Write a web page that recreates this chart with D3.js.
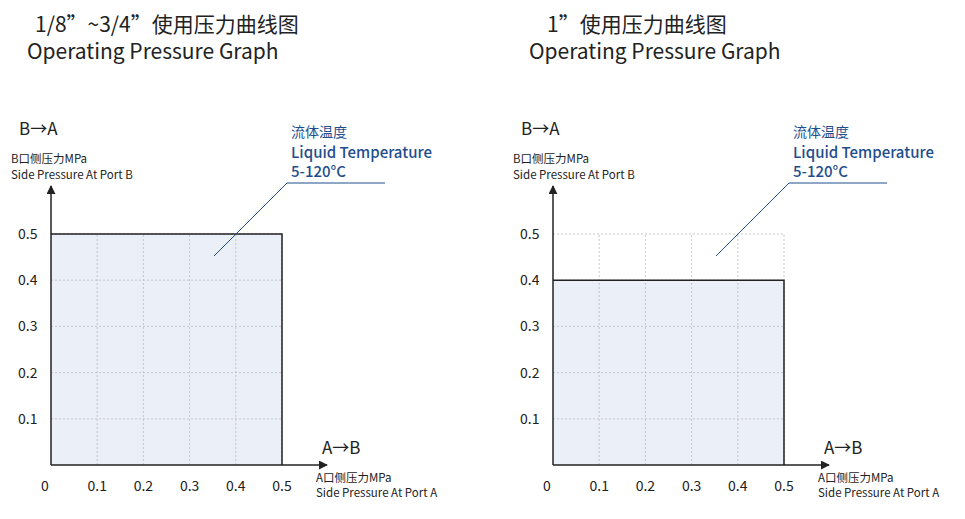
<!DOCTYPE html><html><head><meta charset="utf-8"><script src="https://cdn.jsdelivr.net/npm/d3@7"></script>
<style>body{margin:0;background:#fff}text{font-family:"Noto Sans CJK SC","Noto Sans",sans-serif}</style></head><body>
<svg id="c" width="965" height="519"></svg>
<script>
const ticks=[0.1,0.2,0.3,0.4,0.5];
const xTickLabels=["0","0.1","0.2","0.3","0.4","0.5"];
const chartTitles=["1/8”~3/4”使用压力曲线图","1”使用压力曲线图"];
const subTitle="Operating Pressure Graph";
const maxA=[0.5,0.5];
const maxB=[0.5,0.4];
const tempLabels=["流体温度","Liquid Temperature","5-120°C"];
const svg=d3.select("#c");
svg.append("defs").append("marker").attr("id","ar").attr("viewBox","0 0 10 10").attr("refX",9).attr("refY",5)
 .attr("markerWidth",9).attr("markerHeight",9).attr("markerUnits","userSpaceOnUse").attr("orient","auto")
 .append("path").attr("d","M0,0L10,5L0,10z").attr("fill","#222");
[0,1].forEach(i=>{
 const ox=i*502;
 const g=svg.append("g").attr("transform",`translate(${ox},0)`);
 const x=d3.scaleLinear().domain([0,0.5]).range([51,282]);
 const y=d3.scaleLinear().domain([0,0.5]).range([465,234]);
 g.append("text").attr("x",i?45:35).attr("y",32).attr("font-size",21).attr("fill","#222").text(chartTitles[i]);
 g.append("text").attr("x",27).attr("y",59).attr("font-size",21).attr("fill","#222").text(subTitle);
 g.append("rect").attr("x",x(0)).attr("y",y(maxB[i])).attr("width",x(maxA[i])-x(0)).attr("height",y(0)-y(maxB[i])).attr("fill","#eaeff8");
 ticks.forEach(t=>{
  g.append("line").attr("x1",x(t)).attr("x2",x(t)).attr("y1",y(0)).attr("y2",y(0.5)).attr("stroke","#bbb").attr("stroke-dasharray","2,2").attr("stroke-width",0.8);
  g.append("line").attr("y1",y(t)).attr("y2",y(t)).attr("x1",x(0)).attr("x2",x(0.5)).attr("stroke","#bbb").attr("stroke-dasharray","2,2").attr("stroke-width",0.8);
  g.append("text").attr("x",18).attr("y",y(t)+5).attr("font-size",14).attr("fill","#222").text(t.toFixed(1));
 });
 g.append("path").attr("d",`M${x(0)},${y(maxB[i])}H${x(maxA[i])}V${y(0)}`).attr("fill","none").attr("stroke","#222").attr("stroke-width",1.5);
 g.append("line").attr("x1",x(0)).attr("y1",y(0)).attr("x2",x(0)).attr("y2",186).attr("stroke","#222").attr("stroke-width",1.5).attr("marker-end","url(#ar)");
 g.append("line").attr("x1",x(0)).attr("y1",y(0)).attr("x2",327).attr("y2",y(0)).attr("stroke","#222").attr("stroke-width",1.5).attr("marker-end","url(#ar)");
 xTickLabels.forEach((l,j)=>g.append("text").attr("x",j?x(j/10):45).attr("y",491).attr("text-anchor","middle").attr("font-size",14).attr("fill","#222").text(l));
 g.append("text").attr("x",19).attr("y",135).attr("font-size",17).attr("fill","#222").text("B→A");
 g.append("text").attr("x",11).attr("y",163).attr("font-size",11.5).attr("fill","#222").text("B口侧压力MPa");
 g.append("text").attr("x",11).attr("y",179).attr("font-size",11.5).attr("fill","#222").text("Side Pressure At Port B");
 g.append("text").attr("x",322).attr("y",454).attr("font-size",17).attr("fill","#222").text("A→B");
 g.append("text").attr("x",316).attr("y",482).attr("font-size",11.5).attr("fill","#222").text("A口侧压力MPa");
 g.append("text").attr("x",316).attr("y",497).attr("font-size",11.5).attr("fill","#222").text("Side Pressure At Port A");
 g.append("text").attr("x",291).attr("y",137).attr("font-size",14).attr("fill","#1f4e8c").text(tempLabels[0]);
 g.append("text").attr("x",291).attr("y",158).attr("font-size",15).attr("font-weight",500).attr("fill","#1f4e8c").text(tempLabels[1]);
 g.append("text").attr("x",291).attr("y",177).attr("font-size",15).attr("font-weight",500).attr("fill","#1f4e8c").text(tempLabels[2]);
 g.append("path").attr("d","M214,256L287,183H385").attr("fill","none").attr("stroke","#1f4e8c").attr("stroke-width",1);
});
</script></body></html>
